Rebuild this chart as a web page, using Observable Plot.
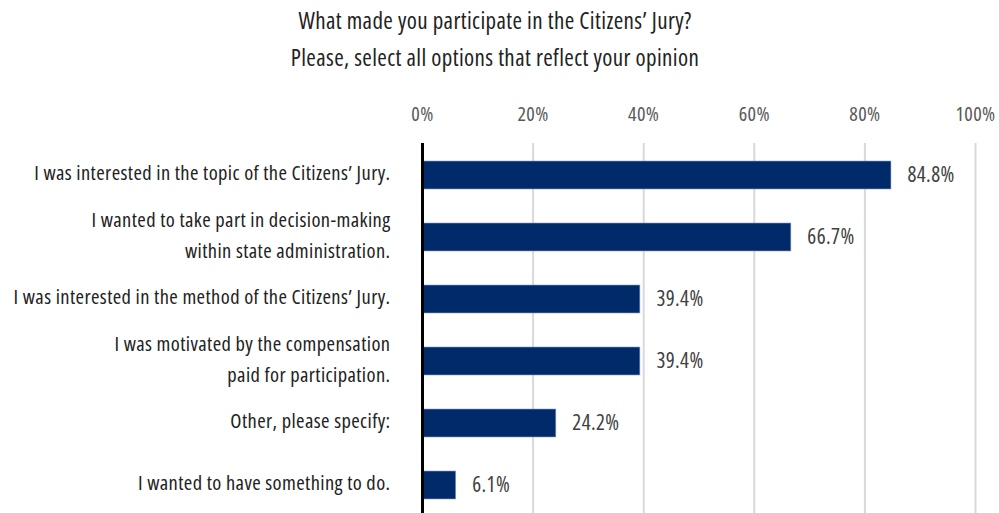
<!DOCTYPE html>
<html>
<head>
<meta charset="utf-8">
<script src="https://cdn.jsdelivr.net/npm/d3@7"></script>
<script src="https://cdn.jsdelivr.net/npm/@observablehq/plot@0.6"></script>
<style>
  html, body { margin: 0; padding: 0; background: #fff; }
  body { width: 999px; height: 513px; overflow: hidden; font-family: "Open Sans", sans-serif; font-stretch: 75%; }
  #title { height: 80px; box-sizing: border-box; padding-top: 2px; text-align: center; font-size: 23px; letter-spacing: 0.4px; line-height: 37px; color: #222; width: 990px; font-stretch: 75%; }
  #chart svg { display: block; font-stretch: 75%; }
  #chart svg text { font-stretch: 75%; letter-spacing: 0.4px; }
</style>
</head>
<body>
<div id="title">What made you participate in the Citizens’ Jury?<br>Please, select all options that reflect your opinion</div>
<div id="chart"></div>
<script>
const categories = [
  "I was interested in the topic of the Citizens’ Jury.",
  "I wanted to take part in decision-making\nwithin state administration.",
  "I was interested in the method of the Citizens’ Jury.",
  "I was motivated by the compensation\npaid for participation.",
  "Other, please specify:",
  "I wanted to have something to do."
];
const values = [84.8, 66.7, 39.4, 39.4, 24.2, 6.1];
const xTicks = [0, 20, 40, 60, 80, 100];

const data = categories.map((c, i) => ({category: c, value: values[i]}));
const font = "'Open Sans', sans-serif";

const chart = Plot.plot({
  width: 999,
  height: 433,
  marginLeft: 422,
  marginRight: 24,
  marginTop: 63,
  marginBottom: 0,
  style: {fontFamily: font, background: "#fff"},
  x: {domain: [0, 100], range: [422, 975], label: null},
  y: {domain: categories, range: [63, 437], paddingInner: 0.55, paddingOuter: 0.275, axis: null},
  marks: [
    Plot.ruleX(xTicks.slice(1), {stroke: "#d9d9d9", strokeWidth: 2}),
    Plot.axisX({anchor: "top", ticks: xTicks, tickFormat: d => d + "%", tickSize: 0, tickPadding: 23, fontSize: 20, fill: "#595959", label: null}),
    Plot.barX(data, {x: "value", y: "category", fill: "#012a6b", stroke: "#8ea2c6", strokeWidth: 0.6}),
    Plot.ruleX([0], {stroke: "#000", strokeWidth: 3}),
    Plot.text(data, {x: "value", y: "category", text: d => d.value.toFixed(1) + "%", textAnchor: "start", dx: 16, fontSize: 21, fill: "#404040"}),
    Plot.text(data, {y: "category", text: "category", frameAnchor: "left", textAnchor: "end", dx: -32, dy: -5, fontSize: 20.5, lineHeight: 1.5, fill: "#222"})
  ]
});
document.getElementById("chart").appendChild(chart);
</script>
</body>
</html>
